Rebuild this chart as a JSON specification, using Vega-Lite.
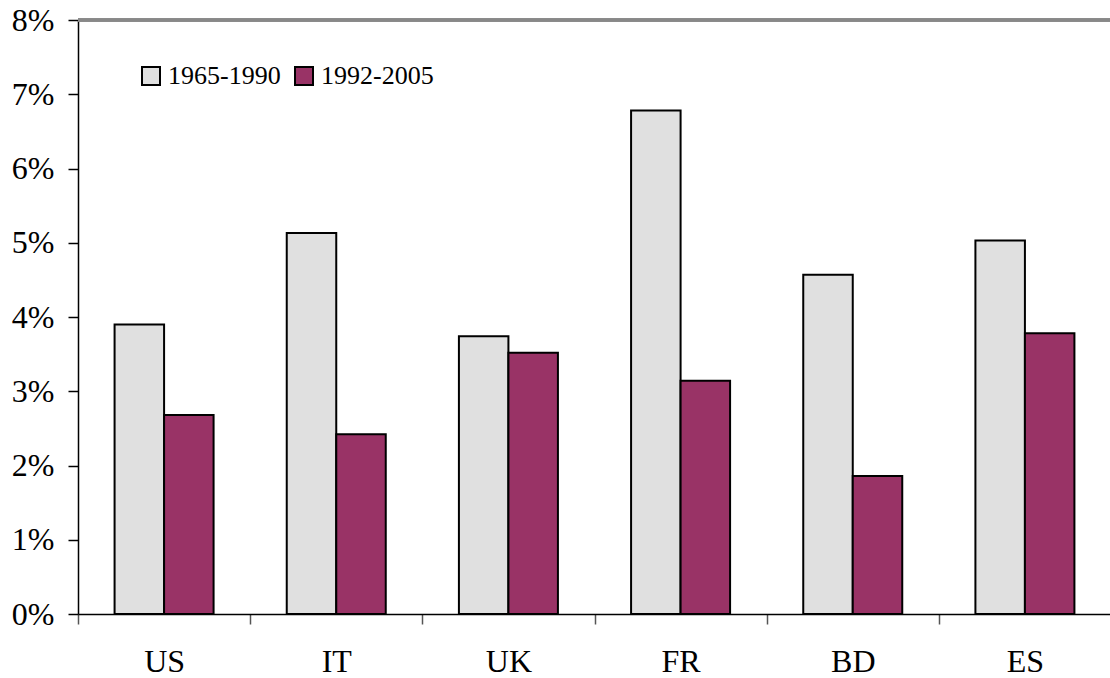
{
  "$schema": "https://vega.github.io/schema/vega-lite/v6.json",
  "width": 1033,
  "height": 594,
  "autosize": {"type": "none"},
  "padding": {"left": 78, "top": 20, "right": 0, "bottom": 64},
  "background": "white",
  "config": {
    "view": {"stroke": null},
    "font": "Liberation Serif"
  },
  "data": {
    "values": [
      {"country": "US", "period": "1965-1990", "value": 0.0390},
      {"country": "US", "period": "1992-2005", "value": 0.0268},
      {"country": "IT", "period": "1965-1990", "value": 0.0513},
      {"country": "IT", "period": "1992-2005", "value": 0.0242},
      {"country": "UK", "period": "1965-1990", "value": 0.0374},
      {"country": "UK", "period": "1992-2005", "value": 0.0352},
      {"country": "FR", "period": "1965-1990", "value": 0.0678},
      {"country": "FR", "period": "1992-2005", "value": 0.0314},
      {"country": "BD", "period": "1965-1990", "value": 0.0457},
      {"country": "BD", "period": "1992-2005", "value": 0.0186},
      {"country": "ES", "period": "1965-1990", "value": 0.0503},
      {"country": "ES", "period": "1992-2005", "value": 0.0378}
    ]
  },
  "layer": [
    {
      "mark": {"type": "bar", "stroke": "black", "strokeWidth": 2},
      "encoding": {
        "x": {
          "field": "country",
          "type": "nominal",
          "sort": ["US", "IT", "UK", "FR", "BD", "ES"],
          "scale": {"paddingInner": 0, "paddingOuter": 0},
          "axis": {
            "title": null,
            "labelAngle": 0,
            "labelFont": "Liberation Serif",
            "labelFontSize": 32,
            "labelColor": "black",
            "labelPadding": 22,
            "tickBand": "extent",
            "tickSize": 10,
            "tickColor": "#555555",
            "tickWidth": 1.5,
            "domainColor": "black",
            "domainWidth": 1.5
          }
        },
        "xOffset": {
          "field": "period",
          "type": "nominal",
          "scale": {"paddingInner": 0, "paddingOuter": 0.739}
        },
        "y": {
          "field": "value",
          "type": "quantitative",
          "scale": {"domain": [0, 0.08], "nice": false},
          "axis": {
            "title": null,
            "format": ".0%",
            "values": [0, 0.01, 0.02, 0.03, 0.04, 0.05, 0.06, 0.07, 0.08],
            "grid": false,
            "labelFont": "Liberation Serif",
            "labelFontSize": 32,
            "labelColor": "black",
            "labelPadding": 14,
            "tickSize": 10,
            "tickColor": "black",
            "tickWidth": 1.5,
            "domainColor": "black",
            "domainWidth": 1.5
          }
        },
        "fill": {
          "field": "period",
          "type": "nominal",
          "scale": {"domain": ["1965-1990", "1992-2005"], "range": ["#e0e0e0", "#993366"]},
          "legend": {
            "title": null,
            "orient": "none",
            "direction": "horizontal",
            "legendX": 60,
            "legendY": 43,
            "symbolType": "square",
            "symbolSize": 324,
            "symbolStrokeColor": "black",
            "symbolStrokeWidth": 2,
            "labelFont": "Liberation Serif",
            "labelFontSize": 26,
            "labelColor": "black",
            "labelOffset": 4,
            "columnPadding": 10,
            "padding": 0
          }
        }
      }
    },
    {
      "mark": {"type": "rule", "color": "#888888", "strokeWidth": 2.5},
      "encoding": {"y": {"datum": 0.08}}
    }
  ]
}
